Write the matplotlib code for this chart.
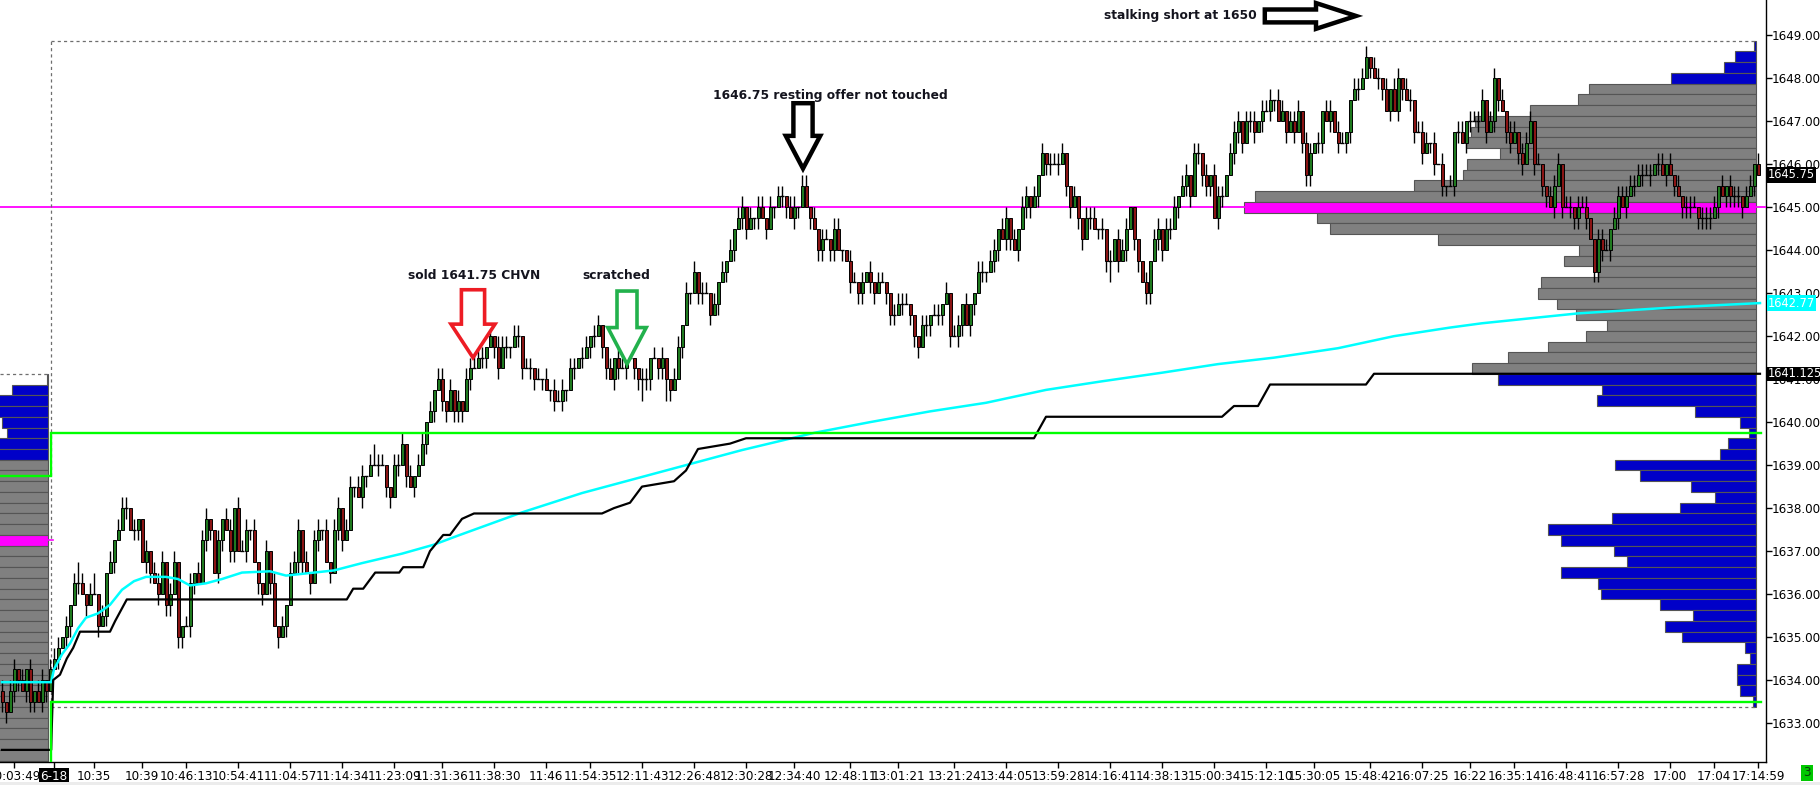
import numpy as np
import matplotlib.pyplot as plt
from matplotlib.patches import Polygon, Rectangle
from matplotlib import font_manager as fm
import matplotlib.transforms as mtransforms


def find_font(keys):
    for k in keys:
        for f in fm.fontManager.ttflist:
            low = f.fname.replace(' ', '').lower()
            if k.lower() in low and 'bold' not in low and 'italic' not in low and 'oblique' not in low:
                return f.fname
    return None


narrow_file = find_font(['LiberationSansNarrow-Regular', 'LiberationSansNarrow',
                         'DejaVuSansCondensed', 'Condensed-Regular', 'Narrow', 'Condensed'])
if narrow_file:
    axis_font = fm.FontProperties(fname=narrow_file, size=9.5)
else:
    axis_font = fm.FontProperties(family=['Liberation Sans', 'DejaVu Sans'], size=8)
tag_font = axis_font.copy()
tag_font.set_size(axis_font.get_size() - 0.3)
plt.rcParams['font.family'] = ['Liberation Sans', 'DejaVu Sans']

TICK = 0.25
BASE = 1630.0

# closes in quarter points above 1630, one per bar (bars 0-12 = previous session)
first_open_q = 15
closes_q = [
    14, 13, 15, 17, 16, 15, 17, 14, 15, 14, 16, 15, 17,
    18, 19, 20, 21, 23, 25, 25, 24,
    23, 24, 24, 21, 22, 26, 27, 29, 30, 32,
    32, 30, 30, 31, 27, 28, 26, 25, 24, 27,
    23, 24, 27, 20, 21, 21, 25, 26, 25, 29,
    31, 30, 26, 29, 31, 30, 28, 32, 28, 28,
    30, 30, 27, 25, 24, 28, 25, 21, 20, 21,
    23, 26, 27, 30, 27, 26, 25, 29, 30, 30,
    27, 26, 30, 32, 29, 30, 34, 34, 33, 35,
    35, 36, 36, 36, 36, 34, 33, 36, 36, 38,
    35, 34, 35, 36, 38, 40, 41, 43, 44, 42,
    41, 43, 41, 42, 41, 44, 45, 45, 46, 46,
    47, 48, 47, 45, 47, 47, 47, 48, 48, 45,
    45, 45, 44, 44, 44, 43, 43, 42, 42, 43,
    43, 45, 45, 46, 46, 47, 48, 48, 49, 47,
    45, 44, 46, 45, 45, 46, 46, 45, 44, 44,
    44, 46, 46, 45, 46, 44, 43, 44, 47, 49,
    52, 52, 54, 52, 52, 52, 50, 51, 53, 54,
    55, 56, 58, 59, 60, 58, 59, 59, 60, 59,
    58, 60, 60, 61, 61, 60, 59, 60, 60, 62,
    60, 59, 58, 56, 57, 57, 56, 58, 56, 56,
    55, 53, 53, 52, 53, 54, 53, 52, 53, 53,
    52, 50, 50, 51, 51, 51, 50, 48, 47, 49,
    49, 50, 50, 50, 51, 52, 48, 48, 49, 51,
    49, 51, 52, 54, 54, 54, 55, 56, 58, 57,
    59, 57, 56, 58, 60, 61, 60, 61, 63, 65,
    64, 64, 64, 64, 65, 62, 60, 61, 59, 57,
    59, 59, 58, 58, 58, 55, 55, 57, 55, 56,
    58, 60, 57, 55, 53, 52, 55, 57, 58, 56,
    58, 58, 60, 61, 62, 63, 61, 65, 65, 63,
    62, 63, 59, 61, 61, 63, 65, 67, 68, 66,
    68, 68, 67, 68, 69, 69, 70, 70, 68, 69,
    67, 68, 67, 69, 66, 63, 65, 66, 66, 69,
    68, 69, 67, 66, 66, 67, 70, 71, 71, 72,
    74, 73, 72, 72, 71, 69, 71, 69, 72, 71,
    70, 70, 67, 67, 65, 66, 66, 64, 64, 62,
    62, 62, 67, 67, 66, 68, 68, 68, 68, 70,
    67, 68, 72, 70, 69, 67, 66, 67, 65, 64,
    66, 68, 64, 64, 62, 61, 60, 62, 64, 60,
    60, 60, 59, 60, 60, 59, 57, 54, 57, 56,
    56, 58, 59, 61, 60, 61, 62, 62, 63, 63,
    63, 63, 64, 64, 63, 64, 63, 62, 61, 60,
    60, 60, 60, 59, 59, 59, 59, 60, 62, 61,
    62, 61, 61, 61, 60, 61, 62, 64, 63,
]
# wick lengths in ticks above / below the body
wick_up = [
    1, 0, 1, 1, 0, 1, 0, 1, 0, 1, 1, 0, 1, 1, 1, 0, 1, 0, 1, 2,
    1, 0, 1, 2, 0, 1, 0, 1, 0, 1, 1, 1, 0, 1, 0, 0, 1, 0, 1, 1,
    1, 0, 1, 1, 0, 0, 1, 1, 0, 1, 1, 1, 0, 0, 1, 0, 1, 1, 0, 1,
    1, 1, 0, 1, 0, 0, 1, 0, 1, 0, 1, 0, 1, 1, 1, 0, 1, 0, 1, 1,
    0, 1, 0, 1, 1, 0, 1, 1, 0, 1, 1, 0, 1, 2, 1, 1, 0, 0, 1, 1,
    1, 0, 1, 0, 1, 1, 0, 1, 0, 1, 1, 0, 1, 0, 1, 0, 1, 1, 2, 1,
    1, 0, 1, 0, 1, 1, 1, 0, 1, 1, 0, 1, 1, 0, 1, 0, 1, 0, 1, 1,
    1, 0, 1, 1, 0, 1, 1, 0, 1, 1, 0, 0, 1, 0, 1, 1, 0, 1, 0, 0,
    1, 1, 0, 1, 0, 1, 0, 0, 1, 1, 0, 1, 0, 1, 0, 1, 1, 0, 1, 0,
    1, 0, 1, 0, 1, 1, 0, 1, 0, 1, 1, 0, 1, 0, 1, 1, 0, 1, 1, 0,
    1, 1, 0, 1, 0, 1, 1, 0, 1, 1, 0, 0, 1, 1, 0, 1, 0, 1, 0, 1,
    1, 0, 0, 1, 1, 1, 1, 0, 0, 0, 1, 1, 0, 1, 1, 0, 1, 0, 1, 1,
    0, 1, 0, 0, 1, 1, 0, 1, 1, 0, 1, 1, 0, 1, 0, 1, 1, 0, 1, 0,
    1, 0, 1, 1, 1, 1, 0, 0, 1, 0, 0, 1, 1, 1, 0, 1, 0, 1, 0, 1,
    1, 1, 0, 0, 0, 0, 1, 0, 1, 1, 0, 1, 1, 1, 0, 1, 1, 0, 1, 1,
    0, 1, 0, 1, 1, 1, 0, 1, 1, 1, 0, 1, 1, 1, 0, 1, 1, 1, 0, 1,
    1, 0, 1, 1, 1, 0, 1, 1, 0, 1, 0, 1, 1, 0, 1, 1, 0, 0, 1, 1,
    1, 1, 0, 1, 1, 0, 1, 0, 1, 1, 0, 1, 1, 0, 1, 1, 1, 0, 1, 0,
    1, 0, 1, 0, 1, 1, 0, 1, 1, 1, 1, 0, 1, 1, 0, 1, 0, 1, 1, 0,
    1, 1, 1, 0, 1, 0, 0, 1, 1, 1, 0, 1, 1, 0, 1, 1, 1, 0, 0, 1,
    1, 1, 0, 1, 1, 1, 1, 1, 1, 1, 1, 1, 1, 0, 1, 1, 0, 1, 0, 1,
    0, 1, 1, 1, 0, 1, 1, 1, 1, 0, 1, 0, 1, 1, 1, 0, 1, 1, 0, 1,
]
wick_dn = [
    1, 1, 0, 1, 1, 0, 1, 1, 1, 0, 1, 1, 0, 0, 1, 0, 1, 1, 0, 1,
    0, 1, 0, 0, 1, 0, 1, 0, 1, 0, 0, 1, 0, 1, 1, 0, 1, 1, 0, 1,
    0, 1, 1, 0, 1, 1, 0, 1, 1, 0, 0, 1, 1, 0, 1, 1, 0, 1, 1, 0,
    0, 1, 1, 0, 1, 1, 0, 1, 0, 1, 0, 1, 0, 0, 1, 1, 0, 1, 0, 1,
    1, 0, 1, 0, 1, 1, 0, 0, 1, 0, 1, 1, 0, 0, 1, 0, 1, 1, 0, 1,
    0, 1, 0, 1, 0, 0, 1, 0, 1, 0, 1, 1, 0, 1, 1, 1, 0, 1, 0, 0,
    1, 1, 0, 1, 1, 0, 1, 1, 0, 1, 1, 0, 1, 1, 0, 1, 0, 1, 1, 0,
    1, 1, 0, 1, 0, 1, 0, 1, 1, 0, 1, 1, 0, 1, 1, 0, 1, 0, 1, 1,
    2, 1, 1, 0, 1, 1, 2, 1, 0, 0, 1, 0, 1, 0, 1, 1, 0, 1, 0, 1,
    0, 1, 0, 1, 0, 1, 1, 0, 1, 1, 0, 1, 0, 1, 0, 1, 1, 0, 1, 1,
    0, 0, 1, 0, 1, 1, 0, 1, 1, 0, 1, 0, 1, 0, 1, 1, 0, 1, 1, 0,
    0, 1, 1, 1, 0, 1, 0, 1, 1, 1, 0, 1, 1, 0, 1, 1, 0, 1, 0, 1,
    1, 0, 1, 1, 0, 1, 1, 0, 1, 1, 0, 1, 1, 0, 1, 0, 1, 1, 0, 1,
    0, 1, 1, 0, 1, 0, 1, 1, 0, 1, 1, 0, 1, 0, 1, 1, 1, 2, 0, 1,
    0, 1, 0, 1, 1, 0, 1, 1, 0, 1, 1, 0, 1, 0, 1, 0, 1, 1, 0, 1,
    1, 1, 1, 0, 1, 1, 0, 0, 1, 1, 1, 0, 1, 1, 0, 1, 0, 1, 1, 0,
    0, 1, 0, 1, 0, 1, 1, 1, 0, 1, 1, 0, 1, 0, 1, 0, 1, 1, 0, 1,
    0, 0, 1, 0, 1, 1, 0, 1, 0, 1, 1, 0, 1, 1, 0, 1, 0, 1, 1, 0,
    1, 1, 0, 1, 1, 0, 1, 1, 0, 1, 0, 1, 0, 1, 1, 0, 1, 1, 0, 1,
    1, 0, 0, 1, 0, 1, 1, 0, 1, 0, 1, 0, 1, 1, 1, 0, 1, 0, 1, 1,
    1, 0, 1, 0, 1, 0, 1, 0, 1, 0, 1, 0, 1, 0, 1, 0, 1, 0, 1, 0,
    1, 1, 1, 0, 1, 1, 1, 1, 0, 1, 0, 1, 1, 1, 1, 1, 0, 0, 1, 0,
]

# current session volume profile, from 1648.75 down to 1633.50
prof_top = 1648.75
prof_vol = [2, 21, 32, 85, 167, 178, 226, 281, 285, 290, 256, 289, 293, 342, 501, 512,
            439, 426, 318, 177, 192, 158, 215, 218, 199, 180, 149, 170, 208, 248, 284, 258,
            154, 159, 61, 16, 7, 28, 36, 141, 116, 65, 41, 76, 144, 208, 195, 142,
            129, 195, 158, 155, 96, 63, 91, 74, 11, 6, 19, 19, 16, 3]
poc = 1645.0
va_high, va_low = 1647.75, 1641.25

# previous session profile (only the right end is on screen), from 1641.00 down
prev_top = 1641.0
prev_vol = [1, 36, 60, 62, 46, 41, 58, 64,
            80, 85, 90, 88, 95, 92, 100, 120, 97, 105, 96, 90, 88, 84, 86, 80, 78,
            75, 72, 70, 74, 70, 68, 66, 64, 62, 60, 60, 58]
prev_poc = 1637.25
prev_va_high = 1639.0

# green value-area lines: previous / current session
vah_prev, vah_now = 1638.75, 1639.75
val_prev, val_now = 1631.5, 1633.5

# black developing line
dval_bars = [0, 12.3, 12.4, 12.8, 14.5, 16.2, 17.8, 19.5, 27, 28.3, 31.2, 86.2, 87.8, 90.3,
             93.3, 99.3, 100.3, 105.3, 107, 110.3, 112, 115, 118, 150, 153, 157, 160, 168,
             171, 174, 182, 186, 258, 261, 305, 308, 314, 317, 341, 343, 439.5]
dval_vals = [1632.375, 1632.375, 1632.75, 1634.0, 1634.125, 1634.5, 1634.75, 1635.125,
             1635.125, 1635.375, 1635.875, 1635.875, 1636.125, 1636.125, 1636.5, 1636.5,
             1636.625, 1636.625, 1637.0, 1637.375, 1637.375, 1637.75, 1637.875, 1637.875,
             1638.0, 1638.125, 1638.5, 1638.625, 1638.875, 1639.375, 1639.5, 1639.625,
             1639.625, 1640.125, 1640.125, 1640.375, 1640.375, 1640.875, 1640.875,
             1641.125, 1641.125]

# cyan vwap
vwap_bars = [0, 12.3, 13, 15, 17, 19, 21, 24, 27, 30, 33, 36, 41, 44, 47, 51, 55, 60, 67, 71,
             76, 83, 90, 100, 108, 114, 130, 145, 159, 173, 185, 203, 217, 232, 246, 261,
             275, 290, 304, 318, 334, 348, 362, 370, 394, 420, 439.5]
vwap_vals = [1633.95, 1633.95, 1634.25, 1634.6, 1634.85, 1635.2, 1635.45, 1635.55, 1635.75,
             1636.1, 1636.3, 1636.4, 1636.4, 1636.35, 1636.2, 1636.25, 1636.35, 1636.5,
             1636.53, 1636.43, 1636.48, 1636.55, 1636.72, 1636.94, 1637.15, 1637.36,
             1637.9, 1638.35, 1638.7, 1639.05, 1639.35, 1639.75, 1640.0, 1640.25, 1640.45,
             1640.75, 1640.95, 1641.15, 1641.35, 1641.5, 1641.72, 1642.0, 1642.2, 1642.3,
             1642.53, 1642.68, 1642.77]

tick_bars = [3, 13, 23, 35, 46, 59, 72, 85, 98, 110, 123, 136, 147, 160, 173, 186, 198, 212,
             224, 238, 251, 264, 277, 290, 303, 316, 328, 342, 355, 367, 378, 391, 404, 417,
             428, 439]
tick_labels = ['10:03:49', '6-18', '10:35', '10:39', '10:46:13', '10:54:41', '11:04:57',
               '11:14:34', '11:23:09', '11:31:36', '11:38:30', '11:46', '11:54:35',
               '12:11:43', '12:26:48', '12:30:28', '12:34:40', '12:48:11', '13:01:21',
               '13:21:24', '13:44:05', '13:59:28', '14:16:41', '14:38:13', '15:00:34',
               '15:12:10', '15:30:05', '15:48:42', '16:07:25', '16:22', '16:35:14',
               '16:48:41', '16:57:28', '17:00', '17:04', '17:14:59']
price_ticks = [1633, 1634, 1635, 1636, 1637, 1638, 1639, 1640, 1641, 1642, 1643, 1644,
               1645, 1646, 1647, 1648, 1649]

closes = BASE + TICK * np.array(closes_q)
opens = np.concatenate([[BASE + TICK * first_open_q], closes[:-1]])
highs = np.maximum(opens, closes) + TICK * np.array(wick_up)
lows = np.minimum(opens, closes) - TICK * np.array(wick_dn)
x = np.arange(len(closes))

fig = plt.figure(figsize=(18.2, 7.85), dpi=100)
ax = fig.add_axes([0, 23 / 785, 1766 / 1820, 762 / 785])
ax.set_xlim(-0.5, 441)
ax.set_ylim(1632.093, 1649.821)

# --- volume profiles ---
break_x = 12.25      # session break
prof_right = 438.5
prev_right = 11.5
unit = 0.25          # bar widths per volume unit

pv = np.array(prof_vol, dtype=float)
pp = prof_top - TICK * np.arange(len(pv))
cols = []
for p in pp:
    if abs(p - poc) < 1e-6:
        cols.append('#ff00ff')
    elif va_low - 1e-6 <= p <= va_high + 1e-6:
        cols.append('#808080')
    else:
        cols.append('#0000c8')
ax.barh(pp, pv * unit, left=prof_right - pv * unit, height=TICK, color=cols,
        edgecolor='#555555', linewidth=0.8, zorder=2)

qv = np.array(prev_vol, dtype=float)
qp = prev_top - TICK * np.arange(len(qv))
cols2 = []
for p in qp:
    if abs(p - prev_poc) < 1e-6:
        cols2.append('#ff00ff')
    elif p <= prev_va_high + 1e-6:
        cols2.append('#808080')
    else:
        cols2.append('#0000c8')
ax.barh(qp, qv * unit, left=prev_right - qv * unit, height=TICK, color=cols2,
        edgecolor='#555555', linewidth=0.8, zorder=2)
ax.plot([prev_right, break_x + 0.5], [prev_poc, prev_poc], color='#ff00ff', lw=1.2, zorder=2)

# POC line and dashed range boxes
ax.axhline(poc, color='#ff00ff', lw=1.3, zorder=3)
dash = dict(color='#6e6e6e', lw=0.9, ls=(0, (2.5, 2.5)), zorder=3)
ax.plot([break_x, prof_right], [prof_top + 0.125] * 2, **dash)
ax.plot([break_x, prof_right], [pp[-1] - 0.125] * 2, **dash)
ax.plot([break_x, break_x], [pp[-1] - 0.125, prof_top + 0.125], **dash)
ax.plot([-0.5, prev_right], [prev_top + 0.125] * 2, **dash)

# --- candles ---
up = closes > opens
dn = closes < opens
dj = closes == opens
ax.vlines(x, lows, highs, color='black', lw=1.0, zorder=4)
ax.bar(x[up], (closes - opens)[up], bottom=opens[up], width=0.75, color='#1f7a1f',
       edgecolor='black', linewidth=0.7, zorder=5)
ax.bar(x[dn], (opens - closes)[dn], bottom=closes[dn], width=0.75, color='#8a1414',
       edgecolor='black', linewidth=0.7, zorder=5)
ax.hlines(closes[dj], x[dj] - 0.45, x[dj] + 0.45, color='black', lw=1.0, zorder=5)

# --- lines ---
ax.plot(vwap_bars, vwap_vals, color='#00ffff', lw=1.8, zorder=6)
ax.plot(dval_bars, dval_vals, color='black', lw=1.6, zorder=6)
green = dict(color='#00ff00', lw=1.7, zorder=7, solid_joinstyle='miter')
ax.plot([-0.5, break_x, break_x, 439.75], [vah_prev, vah_prev, vah_now, vah_now], **green)
ax.plot([break_x, break_x, 439.75], [val_prev, val_now, val_now], **green)

# --- annotations ---
def down_arrow(tx, ty, hw, hh, sw, length, color, lw):
    pts = [(tx, ty), (tx - hw / 2, ty + hh), (tx - sw / 2, ty + hh), (tx - sw / 2, ty + length),
           (tx + sw / 2, ty + length), (tx + sw / 2, ty + hh), (tx + hw / 2, ty + hh)]
    ax.add_patch(Polygon(pts, closed=True, facecolor='white', edgecolor=color, lw=lw,
                         joinstyle='miter', zorder=8))

def right_arrow(tx, ty, hl, hh, sh, length, color, lw):
    pts = [(tx, ty), (tx - hl, ty + hh / 2), (tx - hl, ty + sh / 2), (tx - length, ty + sh / 2),
           (tx - length, ty - sh / 2), (tx - hl, ty - sh / 2), (tx - hl, ty - hh / 2)]
    ax.add_patch(Polygon(pts, closed=True, facecolor='white', edgecolor=color, lw=lw,
                         joinstyle='miter', zorder=8))

down_arrow(117.75, 1641.5, 11.0, 0.78, 5.8, 1.58, '#ed1c24', 2.6)
down_arrow(156.25, 1641.35, 9.6, 0.85, 5.0, 1.7, '#22b14c', 2.6)
down_arrow(200.25, 1645.9, 8.6, 0.76, 4.8, 1.52, 'black', 3.2)
right_arrow(338.5, 1649.45, 10.0, 0.6, 0.3, 22.8, 'black', 3.2)

ann = dict(ha='center', va='center', fontsize=8.8, fontweight='bold', color='#14141e',
           family='DejaVu Sans', zorder=9)
ax.text(118, 1643.42, 'sold 1641.75 CHVN', **ann)
ax.text(153.5, 1643.42, 'scratched', **ann)
ax.text(207, 1647.6, '1646.75 resting offer not touched', **ann)
ax.text(294.5, 1649.45, 'stalking short at 1650', **ann)

# --- axes styling ---
for s in ['top', 'left']:
    ax.spines[s].set_visible(False)
ax.spines['right'].set_linewidth(1.0)
ax.spines['bottom'].set_linewidth(1.0)
ax.yaxis.tick_right()
ax.set_yticks(price_ticks)
ax.set_yticklabels([f'{v:.2f}' for v in price_ticks])
ax.set_xticks(tick_bars)
ax.set_xticklabels(tick_labels)
ax.tick_params(axis='x', direction='out', length=4, width=1, pad=1.5, colors='black')
ax.tick_params(axis='y', direction='out', length=4, width=1, pad=0, colors='black')
for lab in ax.get_xticklabels() + ax.get_yticklabels():
    lab.set_fontproperties(axis_font)
xl = ax.get_xticklabels()[1]
xl.set_color('white')
xl.set_bbox(dict(facecolor='black', edgecolor='none', pad=1.0))

trans = mtransforms.blended_transform_factory(ax.transAxes, ax.transData)
tag = dict(transform=trans, ha='left', va='center', color='white',
           fontproperties=tag_font, clip_on=False, zorder=10)
ax.text(1.001, 1645.75, '1645.75', bbox=dict(facecolor='black', edgecolor='none', pad=0.8), **tag)
ax.text(1.001, vwap_vals[-1], f'{vwap_vals[-1]:.2f}',
        bbox=dict(facecolor='#00ffff', edgecolor='none', pad=0.8), **tag)
ax.text(1.001, dval_vals[-1], f'{dval_vals[-1]:.3f}',
        bbox=dict(facecolor='black', edgecolor='none', pad=0.5), **tag)

fig.text(1807 / 1820, 1 - 773 / 785, '3', ha='center', va='center', fontproperties=axis_font,
         color='#0a3a0a', bbox=dict(facecolor='#00c800', edgecolor='none', pad=1.2))
fig.patches.append(Rectangle((0, 0), 1, 3 / 785, transform=fig.transFigure,
                             facecolor='#ececec', edgecolor='none'))

fig.savefig('out.png', dpi=100)
